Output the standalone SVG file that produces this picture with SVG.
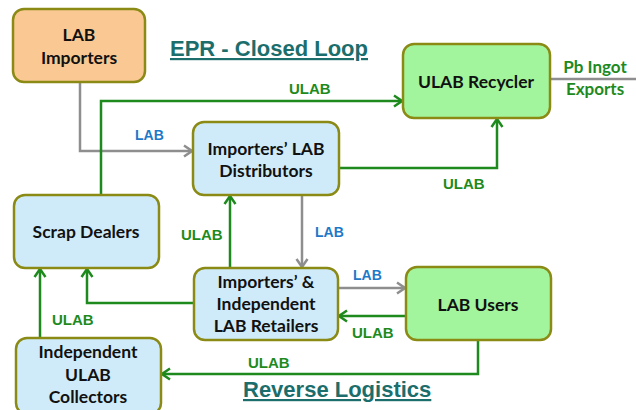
<svg xmlns="http://www.w3.org/2000/svg" width="636" height="410" viewBox="0 0 636 410">
<defs>
<marker id="ag" markerUnits="userSpaceOnUse" markerWidth="14" markerHeight="14" viewBox="-12 -7 14 14" refX="0" refY="0" orient="auto">
<polyline points="-8,-5.5 0,0 -8,5.5" fill="none" stroke="#1E8A1E" stroke-width="2.5"/>
</marker>
<marker id="ay" markerUnits="userSpaceOnUse" markerWidth="14" markerHeight="14" viewBox="-12 -7 14 14" refX="0" refY="0" orient="auto">
<polyline points="-8,-5.5 0,0 -8,5.5" fill="none" stroke="#8E8E8E" stroke-width="2.5"/>
</marker>
</defs>
<style>
.box{stroke:#8A8A14;stroke-width:2.5}
.blue{fill:#CFEBFA}
.orange{fill:#FAC993}
.green{fill:#A2F59C}
.t{font-family:Lato,"Open Sans",sans-serif;font-weight:bold;font-size:17.5px;fill:#111;text-anchor:middle}
.g{fill:none;stroke:#1E8A1E;stroke-width:2.5}
.y{fill:none;stroke:#8E8E8E;stroke-width:2.5}
.lg{font-family:"Liberation Sans",Arial,sans-serif;font-weight:bold;font-size:15px;fill:#1E8A1E}
.lb{font-family:"Liberation Sans",Arial,sans-serif;font-weight:bold;font-size:14px;fill:#1E78C8}
.title{font-family:"Liberation Sans",Arial,sans-serif;font-weight:bold;font-size:22px;fill:#1B6E6C;text-decoration:underline}
.pb{font-family:Lato,"Open Sans",sans-serif;font-weight:bold;font-size:17px;fill:#1E8A1E;text-anchor:middle}
</style>
<rect width="636" height="410" fill="#FFFFFF"/>
<g id="connectors">
<path class="y" d="M80 82 V151 H192" marker-end="url(#ay)"/>
<path class="g" d="M101 195 V101 H402" marker-end="url(#ag)"/>
<path class="g" d="M339 168 H497 V119" marker-end="url(#ag)"/>
<path class="g" d="M230 268 V196" marker-end="url(#ag)"/>
<path class="y" d="M302 195 V267" marker-end="url(#ay)"/>
<path class="g" d="M194 303 H87 V269" marker-end="url(#ag)"/>
<path class="g" d="M40 338 V269" marker-end="url(#ag)"/>
<path class="y" d="M338 288 H405" marker-end="url(#ay)"/>
<path class="g" d="M406 316 H339" marker-end="url(#ag)"/>
<path class="g" d="M478 340 V374 H162" marker-end="url(#ag)"/>
<path class="y" d="M550 79 H636"/>
</g>
<g id="labels">
<text class="lg" x="289" y="94">ULAB</text>
<text class="lb" x="135" y="140">LAB</text>
<text class="lg" x="443" y="189">ULAB</text>
<text class="lg" x="181" y="240">ULAB</text>
<text class="lb" x="315" y="237">LAB</text>
<text class="lg" x="52" y="325">ULAB</text>
<text class="lb" x="353" y="280">LAB</text>
<text class="lg" x="352" y="338">ULAB</text>
<text class="lg" x="248" y="368">ULAB</text>
<text class="pb" x="595" y="73">Pb Ingot</text>
<text class="pb" x="595" y="95">Exports</text>
</g>
<g id="titles">
<text class="title" x="170" y="56">EPR - Closed Loop</text>
<text class="title" x="243" y="397">Reverse Logistics</text>
</g>
<g id="lab-importers">
<rect class="box orange" x="13" y="9" width="132" height="73" rx="11"/>
<text class="t" x="79" y="41">LAB</text>
<text class="t" x="79" y="64">Importers</text>
</g>
<g id="ulab-recycler">
<rect class="box green" x="403" y="44" width="147" height="74" rx="11"/>
<text class="t" x="476" y="88">ULAB Recycler</text>
</g>
<g id="distributors">
<rect class="box blue" x="193" y="122" width="146" height="73" rx="11"/>
<text class="t" x="266" y="155">Importers’ LAB</text>
<text class="t" x="266" y="177">Distributors</text>
</g>
<g id="scrap-dealers">
<rect class="box blue" x="14" y="195" width="145" height="73" rx="11"/>
<text class="t" x="86" y="238">Scrap Dealers</text>
</g>
<g id="retailers">
<rect class="box blue" x="194" y="268" width="144" height="72" rx="11"/>
<text class="t" x="266" y="288">Importers’ &amp;</text>
<text class="t" x="266" y="310">Independent</text>
<text class="t" x="266" y="332">LAB Retailers</text>
</g>
<g id="lab-users">
<rect class="box green" x="406" y="267" width="145" height="73" rx="11"/>
<text class="t" x="478" y="311">LAB Users</text>
</g>
<g id="collectors">
<rect class="box blue" x="16" y="338" width="145" height="76" rx="11"/>
<text class="t" x="88" y="358">Independent</text>
<text class="t" x="88" y="381">ULAB</text>
<text class="t" x="88" y="403">Collectors</text>
</g>
</svg>
